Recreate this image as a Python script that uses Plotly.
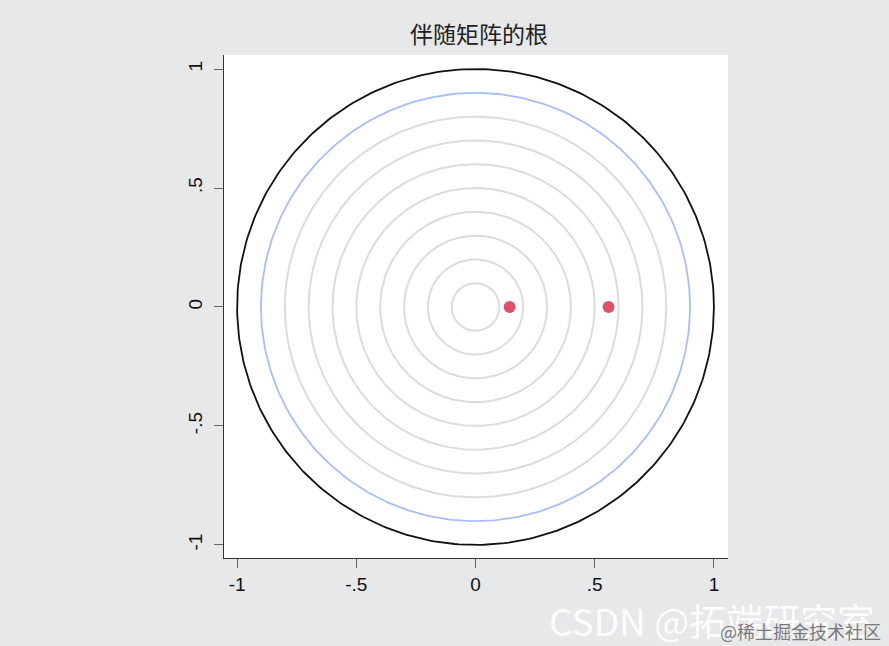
import numpy as np
import plotly.graph_objects as go

# Data
grid_radii = [0.1, 0.2, 0.3, 0.4, 0.5, 0.6, 0.7, 0.8]
ref_radius_inner = 0.9
unit_radius = 1.0
root_real = [0.143, 0.558]
root_imag = [0.0, 0.0]
tick_vals = [-1, -0.5, 0, 0.5, 1]
tick_text = ["-1", "-.5", "0", ".5", "1"]
title_text = "伴随矩阵的根"
watermark_main = "CSDN @拓端研究室"
watermark_sub = "@稀土掘金技术社区"

theta = np.linspace(0, 2 * np.pi, 361)

fig = go.Figure()

def circle(r, color, width):
    fig.add_trace(go.Scatter(
        x=r * np.cos(theta), y=r * np.sin(theta), mode="lines",
        line=dict(color=color, width=width), hoverinfo="skip", showlegend=False))

for r in grid_radii:
    circle(r, "#dcdcdc", 2)
circle(ref_radius_inner, "#a9bdf7", 1.8)
circle(unit_radius, "#111111", 1.8)

fig.add_trace(go.Scatter(
    x=root_real, y=root_imag, mode="markers",
    marker=dict(color="#e0506a", size=12), showlegend=False))

axis_common = dict(
    range=[-1.055, 1.059], tickvals=tick_vals, ticktext=tick_text,
    showgrid=False, zeroline=False, showline=True, linecolor="#333333",
    linewidth=1.2, ticks="outside", ticklen=9, tickcolor="#666666",
    tickfont=dict(family="Liberation Sans, Arial", size=19, color="#111111"),
)

L, R, T, B = 224, 161, 55, 88
W, H = 889, 646
pw = W - L - R
ph = H - T - B

def px(x):
    return (x - L) / pw

def py(y):
    return (H - B - y) / ph

fig.update_layout(
    width=W, height=H,
    paper_bgcolor="#e7e8e9", plot_bgcolor="#ffffff",
    margin=dict(l=L, r=R, t=T, b=B),
    title=dict(text=title_text, x=479 / W, xanchor="center", y=1 - 35 / H, yanchor="middle",
               font=dict(family="Noto Sans CJK SC", size=23, color="#222222")),
    xaxis=dict(**axis_common),
    yaxis=dict(**axis_common, tickangle=-90, ticklabelstandoff=4),
    annotations=[
        dict(text=watermark_main, x=px(876), y=py(620), xref="paper", yref="paper",
             showarrow=False, font=dict(family="Noto Sans CJK SC", size=37, color="rgba(255,255,255,0.92)"),
             xanchor="right", yanchor="middle"),
        dict(text=watermark_sub, x=px(883), y=py(631), xref="paper", yref="paper",
             showarrow=False, font=dict(family="Noto Sans CJK SC", size=18, color="#7a7a7a"),
             xanchor="right", yanchor="middle"),
    ],
)

fig.write_html("out.html", config={"displayModeBar": False},
               post_script="document.body.style.margin='0';document.body.style.overflow='hidden';")
